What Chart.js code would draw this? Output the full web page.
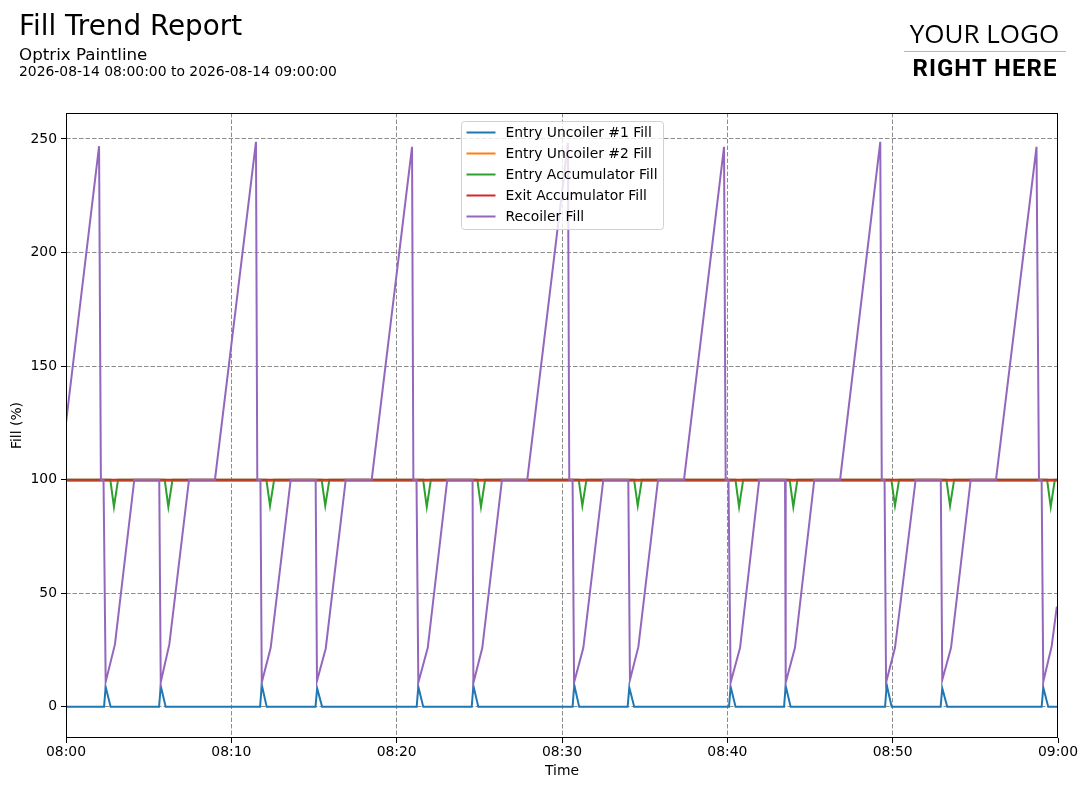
<!DOCTYPE html>
<html>
<head>
<meta charset="utf-8">
<script src="https://cdn.jsdelivr.net/npm/chart.js@4.4.1/dist/chart.umd.min.js"></script>
<style>
  body { margin: 0; background: #fff; }
  #wrap { position: relative; width: 1087px; height: 788px; overflow: hidden; }
  #c { position: absolute; left: 0; top: 0; }
  .txt { position: absolute; line-height: 1; white-space: nowrap; color: #000; font-family: "DejaVu Sans", sans-serif; }
  #title { left: 19px; top: 11.5px; font-size: 27.8px; }
  #sub { left: 19px; top: 46px; font-size: 16.7px; }
  #range { left: 19px; top: 65px; font-size: 13.9px; }
  #logo1 { left: 900px; width: 169px; text-align: center; top: 20px; font-family: "Open Sans", sans-serif; font-size: 26px; }
  #logoLine { position: absolute; left: 904px; top: 51px; width: 162px; height: 1px; background: #d8a8a8; }
  #logo2 { left: 899px; width: 172px; text-align: center; top: 56px; font-family: Roboto, sans-serif; font-weight: bold; font-size: 24px; letter-spacing: 1px; }
</style>
</head>
<body>
<div id="wrap">
  <canvas id="c" width="1087" height="788"></canvas>
  <div class="txt" id="title">Fill Trend Report</div>
  <div class="txt" id="sub">Optrix Paintline</div>
  <div class="txt" id="range">2026-08-14 08:00:00 to 2026-08-14 09:00:00</div>
  <div class="txt" id="logo1">YOUR LOGO</div>
  <div id="logoLine"></div>
  <div class="txt" id="logo2">RIGHT HERE</div>
</div>
<script>
// minutes after 08:00
const timeTicks = [0, 10, 20, 30, 40, 50, 60];
const timeLabels = ['08:00', '08:10', '08:20', '08:30', '08:40', '08:50', '09:00'];
const fillTicks = [0, 50, 100, 150, 200, 250];

const uncoiler1Times = [0, 2.30, 2.40, 2.70, 5.63, 5.73, 6.03, 11.74, 11.84, 12.14, 15.09, 15.19, 15.49,
  21.21, 21.31, 21.61, 24.54, 24.64, 24.94, 30.64, 30.74, 31.04, 33.97, 34.07, 34.37,
  40.10, 40.20, 40.50, 43.43, 43.53, 43.83, 49.54, 49.64, 49.94, 52.90, 53.00, 53.30,
  59.01, 59.11, 59.41, 60];
const uncoiler1Fill = [0, 0, 8.8, 0, 0, 9.2, 0, 0, 9.7, 0, 0, 8.2, 0,
  0, 8.9, 0, 0, 9.3, 0, 0, 9.7, 0, 0, 8.5, 0,
  0, 8.9, 0, 0, 9.2, 0, 0, 9.7, 0, 0, 8.2, 0,
  0, 8.5, 0, 0];

const uncoiler2Times = [0, 60];
const uncoiler2Fill = [99.4, 99.4];

const entryAccTimes = [0, 2.68, 2.90, 3.15, 5.97, 6.19, 6.44, 12.12, 12.34, 12.59, 15.46, 15.68, 15.93,
  21.60, 21.82, 22.07, 24.88, 25.10, 25.35, 31.01, 31.23, 31.48, 34.36, 34.58, 34.83,
  40.49, 40.71, 40.96, 43.77, 43.99, 44.24, 49.92, 50.14, 50.39, 53.25, 53.47, 53.72,
  59.34, 59.56, 59.81, 60];
const entryAccFill = [100, 100, 88, 100, 100, 88, 100, 100, 88.5, 100, 100, 88.5, 100,
  100, 88, 100, 100, 88, 100, 100, 88.5, 100, 100, 88.5, 100,
  100, 88, 100, 100, 88, 100, 100, 88.5, 100, 100, 88.5, 100,
  100, 88, 100, 100];

const exitAccTimes = [0, 60];
const exitAccFill = [100, 100];

const recoilerTimes = [0.00, 2.00, 2.11, 2.27, 2.40, 2.96, 4.13, 5.64, 5.73, 6.25, 7.44, 9.01,
  11.49, 11.57, 11.76, 11.84, 12.38, 13.59, 15.10, 15.18, 15.71, 16.92, 18.49,
  20.93, 21.01, 21.20, 21.31, 21.88, 23.06, 24.59, 24.64, 25.18, 26.37, 27.90,
  30.36, 30.44, 30.64, 30.73, 31.29, 32.50, 34.01, 34.11, 34.62, 35.81, 37.38,
  39.80, 39.90, 40.07, 40.20, 40.77, 41.93, 43.49, 43.53, 44.09, 45.26, 46.82,
  49.25, 49.34, 49.51, 49.60, 50.14, 51.39, 52.91, 53.00, 53.53, 54.72, 56.25,
  58.70, 58.85, 59.01, 59.11, 59.62, 59.92, 60.00];
const recoilerFill = [125, 246.8, 100, 100, 11, 27.5, 100, 100, 10.8, 27.5, 100, 100,
  248.7, 100, 100, 10.7, 26, 100, 100, 11.4, 25.7, 100, 100,
  246.5, 100, 100, 10.7, 26, 100, 100, 10.5, 26, 100, 100,
  248.3, 100, 100, 10.7, 26, 100, 100, 11.8, 26.5, 100, 100,
  246.5, 100, 100, 10.7, 26, 100, 100, 10.7, 26, 100, 100,
  248.7, 100, 100, 10.7, 26, 100, 100, 11.8, 26, 100, 100,
  246.5, 100, 100, 11.1, 26.8, 43.7, 44];

const FONT = '"DejaVu Sans", sans-serif';

function pts(times, vals) {
  return times.map((t, i) => ({ x: t, y: vals[i] }));
}

function series(label, times, vals, color, order) {
  return { label, data: pts(times, vals), borderColor: color, backgroundColor: color, order: order };
}

// frame + matplotlib style legend box, drawn over the lines
const overlay = {
  id: 'overlay',
  afterDatasetsDraw(chart) {
    const { ctx, chartArea } = chart;
    ctx.save();
    ctx.strokeStyle = '#000';
    ctx.lineWidth = 1;
    ctx.strokeRect(chartArea.left + 0.5, chartArea.top + 0.5, chartArea.right - chartArea.left - 1, chartArea.bottom - chartArea.top - 1);

    ctx.font = '13.9px ' + FONT;
    const sets = chart.data.datasets;
    const textW = Math.max(...sets.map(d => ctx.measureText(d.label).width));
    const w = 5 + 29 + 10 + textW + 6;
    const rowH = 21;
    const h = sets.length * rowH + 3;
    const x = Math.round((chartArea.left + chartArea.right) / 2 - w / 2) + 0.5;
    const y = chartArea.top + 8.5;
    ctx.beginPath();
    ctx.roundRect(x, y, w, h, 3);
    ctx.fillStyle = 'rgba(255,255,255,0.8)';
    ctx.fill();
    ctx.strokeStyle = '#d0d0d0';
    ctx.stroke();
    ctx.textBaseline = 'middle';
    ctx.textAlign = 'left';
    sets.forEach((d, i) => {
      const cy = y + 11 + i * rowH;
      ctx.beginPath();
      ctx.moveTo(x + 5, cy);
      ctx.lineTo(x + 34, cy);
      ctx.strokeStyle = d.borderColor;
      ctx.lineWidth = 2;
      ctx.stroke();
      ctx.fillStyle = '#000';
      ctx.fillText(d.label, x + 44, cy + 1);
    });
    ctx.restore();
  }
};

// no grid line where it would sit on the frame
function gridFor(lo, hi) {
  return {
    color: c => (c.tick && (c.tick.value === lo || c.tick.value === hi)) ? 'rgba(0,0,0,0)' : '#808080',
    lineWidth: 0.9, tickColor: '#000', tickLength: 5, tickWidth: 1, tickBorderDash: []
  };
}

new Chart(document.getElementById('c'), {
  type: 'line',
  data: {
    datasets: [
      series('Entry Uncoiler #1 Fill', uncoiler1Times, uncoiler1Fill, '#1f77b4', 5),
      series('Entry Uncoiler #2 Fill', uncoiler2Times, uncoiler2Fill, '#ff7f0e', 4),
      series('Entry Accumulator Fill', entryAccTimes, entryAccFill, '#2ca02c', 3),
      series('Exit Accumulator Fill', exitAccTimes, exitAccFill, '#d62728', 2),
      series('Recoiler Fill', recoilerTimes, recoilerFill, '#9467bd', 1)
    ]
  },
  options: {
    responsive: false,
    animation: false,
    layout: { padding: { top: 113, right: 29, left: 0, bottom: 0 } },
    elements: { point: { radius: 0 }, line: { tension: 0, borderWidth: 2 } },
    plugins: { legend: { display: false }, tooltip: { enabled: false } },
    scales: {
      x: {
        type: 'linear', min: 0, max: 60,
        afterFit: s => { s.height = 50; },
        afterBuildTicks: s => { s.ticks = timeTicks.map(v => ({ value: v })); },
        ticks: { callback: v => timeLabels[timeTicks.indexOf(v)], color: '#000', font: { family: FONT, size: 13.9 }, padding: 1, maxRotation: 0, autoSkip: false },
        grid: gridFor(0, 60),
        border: { display: false, dash: [4.5, 2] },
        title: { display: true, text: 'Time', color: '#000', font: { family: FONT, size: 13.9 }, padding: { top: 0, bottom: 8 } }
      },
      y: {
        type: 'linear', min: -13.7, max: 261.4,
        afterFit: s => { s.width = 66; },
        afterBuildTicks: s => { s.ticks = fillTicks.map(v => ({ value: v })); },
        ticks: { color: '#000', font: { family: FONT, size: 13.9 }, padding: 4, autoSkip: false },
        grid: gridFor(-13.7, 261.4),
        border: { display: false, dash: [4.5, 2] },
        title: { display: true, text: 'Fill (%)', color: '#000', font: { family: FONT, size: 13.9 }, padding: { top: 9, bottom: 0 } }
      }
    }
  },
  plugins: [overlay]
});
</script>
</body>
</html>
